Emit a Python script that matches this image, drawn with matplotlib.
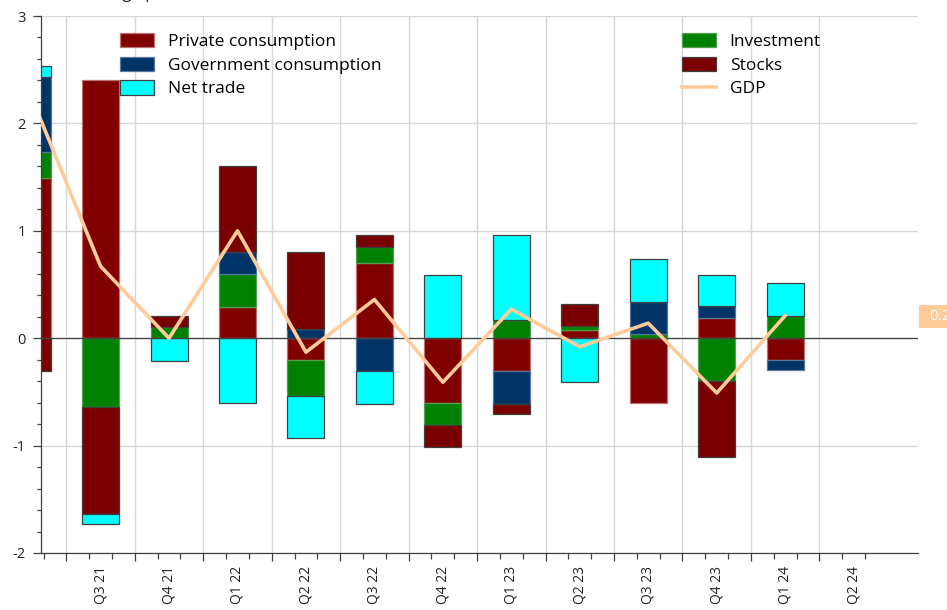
import numpy as np
import matplotlib
matplotlib.use('Agg')
import matplotlib.pyplot as plt
import matplotlib.patches as patches
import matplotlib.transforms as mtransforms
from matplotlib.lines import Line2D

plt.rcParams['font.family'] = ['Open Sans', 'DejaVu Sans']
plt.rcParams['axes.unicode_minus'] = False

# Quarters (first one is only partly visible at the left edge)
quarters = ['Q2 21', 'Q3 21', 'Q4 21', 'Q1 22', 'Q2 22', 'Q3 22', 'Q4 22',
            'Q1 23', 'Q2 23', 'Q3 23', 'Q4 23', 'Q1 24', 'Q2 24']

# Contributions to growth, percentage points (Q2 24 not yet published)
private_consumption = [1.49, 2.40, 0.00, 0.29, -0.20, 0.70, -0.60, -0.31, 0.08, -0.60, 0.19, -0.20, np.nan]
investment = [0.24, -0.64, 0.10, 0.31, -0.34, 0.15, -0.21, 0.17, 0.03, 0.04, -0.40, 0.21, np.nan]
government_consumption = [0.70, 0.00, 0.00, 0.20, 0.09, -0.31, 0.00, -0.30, 0.00, 0.30, 0.11, -0.10, np.nan]
stocks = [-0.31, -1.00, 0.11, 0.80, 0.71, 0.11, -0.20, -0.10, 0.21, 0.00, -0.71, 0.00, np.nan]
net_trade = [0.10, -0.09, -0.21, -0.60, -0.39, -0.30, 0.59, 0.79, -0.41, 0.40, 0.29, 0.30, np.nan]
gdp = [2.23, 0.67, 0.00, 1.00, -0.13, 0.36, -0.41, 0.27, -0.08, 0.14, -0.51, 0.21, np.nan]

# series in stacking order (from zero outwards): label, values, face, edge
series = [
    ('Private consumption', private_consumption, '#800000', '#c07070'),
    ('Investment', investment, '#008000', '#50a050'),
    ('Government consumption', government_consumption, '#003366', '#5577a0'),
    ('Stocks', stocks, '#7a0000', '#404040'),
    ('Net trade', net_trade, '#00ffff', '#404040'),
]

fig = plt.figure(figsize=(9.47, 6.10), dpi=100)
ax = fig.add_axes([41/947, 1-553/610, (918-41)/947, (553-16)/610])

x = np.arange(len(quarters))
width = 0.54
pos_bottom = np.zeros(len(x))
neg_bottom = np.zeros(len(x))
handles = {}
for label, vals, fc, ec in series:
    v = np.array(vals, dtype=float)
    for i in range(len(x)):
        if np.isnan(v[i]) or v[i] == 0:
            continue
        if v[i] > 0:
            b = pos_bottom[i]
            pos_bottom[i] += v[i]
        else:
            b = neg_bottom[i]
            neg_bottom[i] += v[i]
        ax.bar(x[i], v[i], width, bottom=b, color=fc, edgecolor=ec,
               linewidth=0.9, zorder=2)
    handles[label] = patches.Patch(facecolor=fc, edgecolor=ec, linewidth=0.9)

ax.axhline(0, color='#404040', linewidth=0.9, zorder=3)
ax.plot(x, gdp, color='#ffcc99', linewidth=2.6, zorder=4)
handles['GDP'] = Line2D([], [], color='#ffcc99', linewidth=2.6)

ax.set_xlim(0.13, 12.94)
ax.set_ylim(-2, 3)

# x axis: boundaries get gridlines, thirds get small ticks
bounds = np.arange(0.5, 12, 1.0)
ax.set_xticks(bounds)
ax.set_xticklabels([])
thirds = [i + d for i in x for d in (-1/6, 1/6) if 0.13 < i + d < 12.94]
ax.set_xticks(thirds, minor=True)
ax.tick_params(axis='x', which='major', length=6, width=0.9, color='#404040')
ax.tick_params(axis='x', which='minor', length=4, width=0.9, color='#404040')

sec = ax.secondary_xaxis('bottom')
sec.set_xticks(x[1:])
sec.set_xticklabels(quarters[1:], rotation=90, fontsize=10, color='#222222')
sec.tick_params(length=0, pad=9)
sec.spines['bottom'].set_visible(False)

ax.set_yticks(np.arange(-2, 4, 1))
ax.set_yticklabels([str(v) for v in range(-2, 4)])
ax.set_yticks(np.arange(-2, 3.01, 0.2), minor=True)
ax.tick_params(axis='y', which='major', length=6, width=0.9, color='#404040',
               labelsize=10.5, labelcolor='#222222', pad=5)
ax.tick_params(axis='y', which='minor', length=3, width=0.9, color='#404040')

ax.grid(True, which='major', color='#d3d8db', linewidth=1.0, zorder=0)
ax.set_axisbelow(True)
for s in ('top', 'right'):
    ax.spines[s].set_visible(False)
for s in ('left', 'bottom'):
    ax.spines[s].set_color('#404040')
    ax.spines[s].set_linewidth(0.9)

leg_kw = dict(frameon=False, fontsize=12.5, handlelength=1.95, handleheight=0.88,
              handletextpad=0.8, labelspacing=0.38, borderpad=0,
              borderaxespad=0, loc='upper left')
left_names = ['Private consumption', 'Government consumption', 'Net trade']
right_names = ['Investment', 'Stocks', 'GDP']
leg1 = ax.legend([handles[n] for n in left_names], left_names,
                 bbox_to_anchor=(120/947, 1-33/610),
                 bbox_transform=fig.transFigure, **leg_kw)
ax.add_artist(leg1)
ax.legend([handles[n] for n in right_names], right_names,
          bbox_to_anchor=(682/947, 1-33/610),
          bbox_transform=fig.transFigure, **leg_kw)

# last GDP value tag at the right edge
last = gdp[-2]
tr = mtransforms.blended_transform_factory(ax.transAxes, ax.transData)
ax.add_patch(patches.Rectangle((1.0015, last - 0.115), 0.04, 0.215,
                               transform=tr, facecolor='#ffcc99',
                               edgecolor='none', clip_on=False, zorder=5))
ax.text(1.0125, last - 0.01, f'{last:.2f}', transform=tr, color='white',
        fontsize=11, va='center', ha='left', clip_on=False, zorder=6)

# title, cut off at the top edge of the picture
fig.text(54/947, 1 + 1.5/610, 'Percentage points', fontsize=12,
         va='baseline', ha='left', color='#222222')

plt.savefig('out.png', dpi=100)
